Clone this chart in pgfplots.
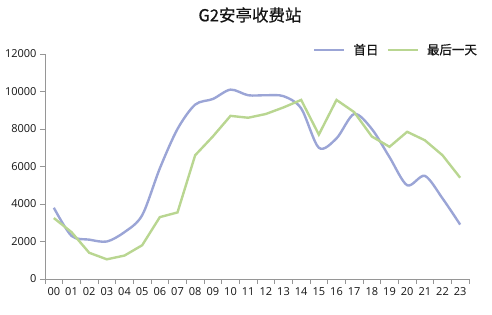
\documentclass[border=0pt]{standalone}
\usepackage{fontspec}
\setmainfont{Open Sans}
\newfontfamily\cjk[FakeBold=0.6]{Noto Sans CJK SC}
\usepackage{pgfplots}
\pgfplotsset{compat=1.18}
\definecolor{cblue}{RGB}{155,165,214}
\definecolor{cgreen}{RGB}{185,214,145}
\definecolor{caxis}{RGB}{150,150,150}
\definecolor{ctext}{RGB}{20,20,20}
\begin{document}
\begin{tikzpicture}[x=1pt,y=1pt]
\useasboundingbox (0,0) rectangle (492,315);
\node[text=ctext,font=\cjk\fontsize{16.5}{18}\selectfont] at (250,300) {G2安亭收费站};
\begin{axis}[
  at={(45pt,36pt)}, anchor=south west,
  scale only axis, width=424pt, height=225pt,
  xmin=-0.5, xmax=23.5, ymin=0, ymax=12000,
  axis x line*=bottom, axis y line*=left,
  axis line style={caxis, line width=0.8pt},
  xtick={0,...,23},
  xticklabels={00,01,02,03,04,05,06,07,08,09,10,11,12,13,14,15,16,17,18,19,20,21,22,23},
  major x tick style={draw=none},
  minor xtick={-0.5,0.5,...,23.5},
  minor x tick style={caxis, line width=0.8pt},
  minor tick length=5pt,
  ytick={0,2000,...,12000},
  major y tick style={caxis, line width=0.8pt},
  major tick length=5pt,
  tick align=outside,
  scaled y ticks=false,
  /pgf/number format/assume math mode=true,
  yticklabel style={/pgf/number format/1000 sep={}, font=\fontsize{11}{13}\selectfont, text=ctext},
  xticklabel style={font=\fontsize{11}{13}\selectfont, text=ctext},
  clip=false,
  legend style={at={(1.031,1.018)}, anchor=east, draw=none, fill=none,
    font=\cjk\fontsize{12.5}{14}\selectfont, text=ctext, legend columns=2,
    column sep=6pt},
  legend cell align=left,
  legend image code/.code={\draw[#1] (0pt,0pt) -- (30pt,0pt);},
]
\addplot[cblue, line width=2.4pt, smooth, tension=0.5] coordinates {
(0,3800) (1,2300) (2,2100) (3,2000) (4,2500) (5,3400) (6,5900) (7,8000)
(8,9300) (9,9600) (10,10100) (11,9800) (12,9800) (13,9750) (14,9100) (15,7000)
(16,7500) (17,8800) (18,8000) (19,6500) (20,5000) (21,5500) (22,4300) (23,2900)};
\addlegendentry{首日}
\addplot[cgreen, line width=2.4pt] coordinates {
(0,3250) (1,2500) (2,1400) (3,1050) (4,1250) (5,1800) (6,3300) (7,3550)
(8,6600) (9,7600) (10,8700) (11,8600) (12,8800) (13,9150) (14,9550) (15,7700)
(16,9550) (17,8900) (18,7600) (19,7050) (20,7850) (21,7400) (22,6600) (23,5400)};
\addlegendentry{最后一天}
\end{axis}
\end{tikzpicture}
\end{document}
